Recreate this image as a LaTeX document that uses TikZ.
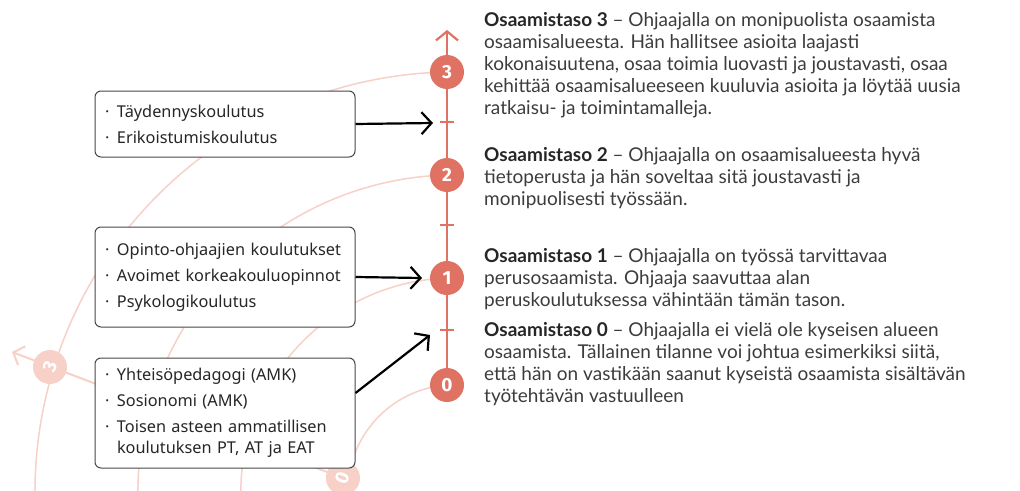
\documentclass[tikz,border=0pt]{standalone}
\usepackage{fontspec}
\setmainfont{Lato}
\newfontfamily\laatikkofont{Noto Sans}
\newfontfamily\numerofont{Fira Sans}
\usetikzlibrary{arrows.meta}
\definecolor{lohi}{RGB}{224,114,99}
\definecolor{vaalea}{RGB}{247,208,200}
\definecolor{teksti}{RGB}{60,60,60}
\newcommand{\kohta}{\makebox[12pt][l]{·}}
\newcommand{\otsikko}[1]{\textbf{\color{black!85}Osaamistaso #1}}

\begin{document}
\begin{tikzpicture}[x=1pt,y=1pt,
    taso/.style={circle,fill=lohi,text=white,minimum size=34pt,inner sep=0pt,
      font=\numerofont\bfseries\fontsize{19}{19}\selectfont},
    haalea/.style={taso,fill=vaalea},
    laatikko/.style={draw=black!72,line width=1pt,rounded corners=6pt,fill=white,
      text width=240pt,inner xsep=10pt,inner ysep=0pt,align=left,text=black!85,
      font=\laatikkofont\fontsize{16.3}{21}\selectfont},
    selite/.style={anchor=north west,inner sep=0pt,align=left,text=teksti,
      font=\fontsize{19}{22}\selectfont},
    kaari/.style={vaalea,line width=1.5pt},
    nuoli/.style={-{Straight Barb[length=10pt,width=22pt]},line width=2.2pt}]
  \useasboundingbox (0,0) rectangle (1020,-490);
  \coordinate (p0) at (447,-385);
  \coordinate (p1) at (447,-278);
  \coordinate (p2) at (447,-175);
  \coordinate (p3) at (447,-72);
  \coordinate (k1) at (447,-330);
  \coordinate (k2) at (447,-225);
  \coordinate (k3) at (447,-122);
  \coordinate (karki) at (447,-30);
  \coordinate (q0) at (343,-478);
  \coordinate (q3) at (50,-367);
  \coordinate (qkarki) at (12,-352);
  \coordinate (a3) at (433,-123);
  \coordinate (a1) at (422,-278);
  \coordinate (a0) at (430,-335);

  \draw[kaari] (p3) arc[start angle=91.09,end angle=185,radius=420pt];
  \draw[kaari] (p2) arc[start angle=91.45,end angle=185,radius=317.1pt];
  \draw[kaari] (p1) arc[start angle=92.14,end angle=185,radius=214.15pt];
  \draw[kaari] (p0) arc[start angle=94.28,end angle=185,radius=107.3pt];
  \draw[kaari,line width=2pt,-{Straight Barb[length=9pt,width=20pt]}] (q0) -- (qkarki);
  \draw
    (q3) node[haalea,rotate=69] (h3){3}
    (q0) node[haalea,rotate=69] (h0){0};

  \node[laatikko,minimum height=66pt] (b3) at (225,-124)
    {\kohta Täydennyskoulutus\\[5pt]\kohta Erikoistumiskoulutus};
  \node[laatikko,minimum height=100pt] (b1) at (225,-277)
    {\kohta Opinto-ohjaajien koulutukset\\[5pt]\kohta Avoimet korkeakouluopinnot\\[5pt]\kohta Psykologikoulutus};
  \node[laatikko,minimum height=110pt] (b0) at (225,-413)
    {\kohta Yhteisöpedagogi (AMK)\\[5pt]\kohta Sosionomi (AMK)\\[5pt]\kohta Toisen asteen ammatillisen\\\hspace*{12pt}koulutuksen PT, AT ja EAT};

  \draw[lohi,line width=2.2pt,-{Straight Barb[length=9pt,width=22pt]}] (p0) -- (karki);
  \foreach \t in {k1,k2,k3}
    \draw[lohi,line width=1.6pt] ([xshift=-7pt]\t) -- ([xshift=7pt]\t);
  \draw
    (p0) node[taso] (t0){0}
    (p1) node[taso] (t1){1}
    (p2) node[taso] (t2){2}
    (p3) node[taso] (t3){3};

  \begin{scope}[nuoli]
    \draw (b3.east) -- (a3);
    \draw (b1.east) -- (a1);
    \draw ([yshift=20pt]b0.east) -- (a0);
  \end{scope}

  \node[selite] (s3) at (484,-12.5)
    {\otsikko{3} – Ohjaajalla on monipuolista osaamista\\
     osaamisalueesta. Hän hallitsee asioita laajasti\\
     kokonaisuutena, osaa toimia luovasti ja joustavasti, osaa\\
     kehittää osaamisalueeseen kuuluvia asioita ja löytää uusia\\
     ratkaisu- ja toimintamalleja.};
  \node[selite] (s2) at (484,-147.5)
    {\otsikko{2} – Ohjaajalla on osaamisalueesta hyvä\\
     tietoperusta ja hän soveltaa sitä joustavasti ja\\
     monipuolisesti työssään.};
  \node[selite] (s1) at (484,-248.5)
    {\otsikko{1} – Ohjaajalla on työssä tarvittavaa\\
     perusosaamista. Ohjaaja saavuttaa alan\\
     peruskoulutuksessa vähintään tämän tason.};
  \node[selite] (s0) at (484,-322.5)
    {\otsikko{0} – Ohjaajalla ei vielä ole kyseisen alueen\\
     osaamista. Tällainen tilanne voi johtua esimerkiksi siitä,\\
     että hän on vastikään saanut kyseistä osaamista sisältävän\\
     työtehtävän vastuulleen};
\end{tikzpicture}
\end{document}
